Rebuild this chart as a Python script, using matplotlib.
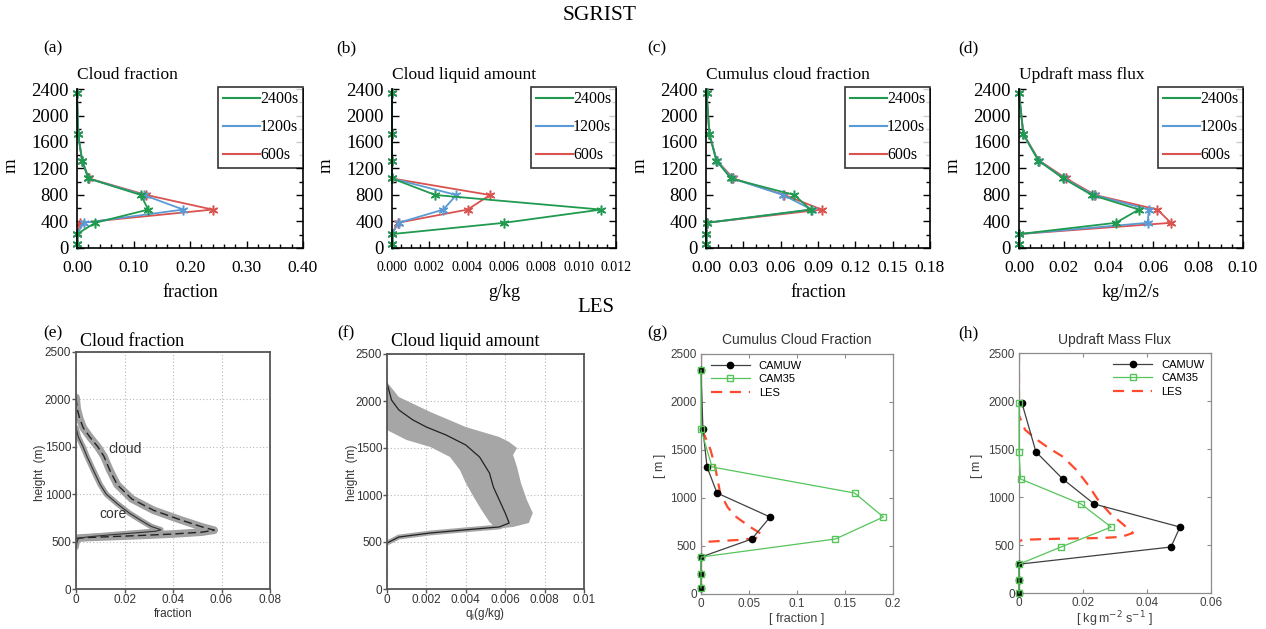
import numpy as np
import matplotlib
matplotlib.use("Agg")
import matplotlib.pyplot as plt
from matplotlib.lines import Line2D
from matplotlib.ticker import AutoMinorLocator

W, H = 1266, 629
SERIF = "Liberation Serif"
SANS = "Liberation Sans"
plt.rcParams["font.family"] = [SERIF, "DejaVu Serif"]

# ---------------- SGRIST (top row) ----------------
z_cam = [2340, 1720, 1320, 1050, 800, 580, 380, 210, 60]

cf_2400 = [0.000, 0.002, 0.009, 0.020, 0.113, 0.126, 0.032, 0.000, 0.000]
cf_1200 = [0.000, 0.002, 0.009, 0.020, 0.118, 0.188, 0.012, 0.000, 0.000]
cf_600 = [0.000, 0.002, 0.009, 0.021, 0.123, 0.240, 0.005, 0.000, 0.000]

cl_2400 = [0, 0, 0, 0, 0.00232, 0.0112, 0.0060, 0, 0]
cl_1200 = [0, 0, 0, 0, 0.00345, 0.00275, 0.00035, 0, 0]
cl_600 = [0, 0, 0, 0, 0.00525, 0.00405, 0.0003, 0, 0]

cu_2400 = [0.0005, 0.0027, 0.0083, 0.020, 0.071, 0.084, 0.0005, 0, 0]
cu_1200 = [0.0005, 0.0027, 0.0085, 0.021, 0.062, 0.085, 0.0005, 0, 0]
cu_600 = [0.0005, 0.0027, 0.0087, 0.022, 0.063, 0.093, 0.0005, 0, 0]

mf_2400 = [0.0, 0.0019, 0.0086, 0.0198, 0.0325, 0.0535, 0.0432, 0.0, 0.0]
mf_1200 = [0.0, 0.0019, 0.0088, 0.0202, 0.0333, 0.0580, 0.0574, 0.0, 0.0]
mf_600 = [0.0, 0.0020, 0.0090, 0.0210, 0.0340, 0.0618, 0.0678, 0.0, 0.0]

run_labels = ["2400s", "1200s", "600s"]
yt_top = [0, 400, 800, 1200, 1600, 2000, 2400]

# ---------------- LES (bottom row) ----------------
# (e) cloud fraction, LES
cld_z = [2020, 1900, 1800, 1700, 1600, 1500, 1400, 1250, 1100, 950, 830, 730, 655, 620, 600, 580, 565, 552, 543, 535]
cld_x = [0, 0.0005, 0.0015, 0.003, 0.0058, 0.009, 0.0115, 0.014, 0.017, 0.023, 0.032, 0.043, 0.052, 0.057, 0.052, 0.040, 0.027, 0.014, 0.005, 0]
core_z = [1700, 1600, 1500, 1400, 1250, 1100, 1000, 900, 800, 720, 660, 625, 610, 595, 575, 555, 540, 525, 480, 440]
core_x = [0, 0.001, 0.0029, 0.0045, 0.0072, 0.0100, 0.0125, 0.017, 0.022, 0.027, 0.031, 0.035, 0.033, 0.026, 0.016, 0.007, 0.002, 0.0008, 0.0003, 0]

# (f) cloud liquid, LES mean and spread
ql_z = [2190, 2010, 1905, 1800, 1723, 1638, 1532, 1404, 1234, 1085, 947, 808, 702, 660, 628, 596, 553, 489]
ql_x = [0, 0.00023, 0.0006, 0.0013, 0.002, 0.003, 0.004, 0.0047, 0.0052, 0.0054, 0.0057, 0.006, 0.0062, 0.0057, 0.0039, 0.0022, 0.0006, 0]
ql_lo_z = [2200, 1691, 1585, 1511, 1404, 1266, 1128, 979, 840, 713, 670]
ql_lo_x = [0, 0, 0.001, 0.0022, 0.0032, 0.0037, 0.004, 0.0044, 0.0048, 0.0052, 0.0054]
ql_hi_z = [2200, 2043, 1883, 1723, 1617, 1564, 1500, 1426, 1298, 1128, 947, 808, 702, 660, 640]
ql_hi_x = [0, 0.0006, 0.0022, 0.004, 0.0057, 0.0062, 0.0066, 0.0064, 0.0066, 0.0068, 0.0071, 0.0074, 0.0072, 0.0064, 0.0055]

# (g) cumulus cloud fraction
g_z = [2334, 1714, 1323, 1052, 802, 573, 385, 208, 63]
g_camuw = [0.0, 0.002, 0.0063, 0.0167, 0.072, 0.053, 0.0, 0.0, 0.0]
g_cam35 = [0.0, 0.0, 0.0115, 0.160, 0.190, 0.140, 0.0, 0.0, 0.0]
g_les_z = [2500, 1800, 1700, 1600, 1500, 1320, 1050, 900, 800, 700, 630, 600, 580, 565, 552, 540, 0]
g_les_x = [0, 0, 0.0015, 0.006, 0.010, 0.0148, 0.020, 0.028, 0.037, 0.051, 0.062, 0.063, 0.056, 0.042, 0.02, 0.0, 0]

# (h) updraft mass flux
h_z = [1980, 1470, 1187, 927, 687, 479, 300, 135, 0]
h_camuw = [0.0009, 0.0053, 0.0137, 0.0235, 0.0503, 0.0475, 0.0, 0.0, 0.0]
h_cam35 = [0.0, 0.0, 0.0005, 0.0194, 0.0288, 0.0131, 0.0, 0.0, 0.0]
h_les_z = [2500, 1850, 1700, 1600, 1510, 1420, 1280, 1125, 970, 830, 730, 625, 585, 573, 565, 555, 540, 0]
h_les_x = [0, 0, 0.0019, 0.0055, 0.0093, 0.0137, 0.018, 0.0216, 0.0247, 0.0284, 0.032, 0.0356, 0.032, 0.026, 0.012, 0.0013, 0, 0]

GREEN, BLUE, RED = "#1f9a4f", "#5b9bd5", "#d9534f"

fig = plt.figure(figsize=(W / 100, H / 100), dpi=100)


def px_axes(box):
    l, t, r, b = box
    return fig.add_axes([l / W, 1 - b / H, (r - l) / W, (b - t) / H])


def ftext(x, y, s, **kw):
    fig.text(x / W, 1 - y / H, s, **kw)


def lab(box, px, py):
    l, t, r, b = box
    return (px - l) / (r - l), (b - py) / (b - t)


# ---------------- top row ----------------
def sgrist(box, xs600, xs1200, xs2400, xticks, ndec, nminor, xfs, letter, title, xlabel, letter_x):
    ax = px_axes(box)
    for xs, c in ((xs600, RED), (xs1200, BLUE), (xs2400, GREEN)):
        ax.plot(xs, z_cam, color=c, lw=1.3, marker=(6, 2, 0), ms=7, mew=1.1, clip_on=False)
    ax.set_xlim(xticks[0], xticks[-1])
    ax.set_ylim(0, 2400)
    ax.set_xticks(xticks)
    ax.set_xticklabels([f"{v:.{ndec}f}" for v in xticks], fontsize=xfs)
    ax.set_yticks(yt_top)
    ax.set_yticklabels([str(v) for v in yt_top], fontsize=13.5)
    ax.xaxis.set_minor_locator(AutoMinorLocator(nminor))
    ax.yaxis.set_minor_locator(AutoMinorLocator(2))
    ax.tick_params(which="both", direction="in", right=True, top=False, width=1.0)
    ax.tick_params(which="major", length=5)
    ax.tick_params(which="minor", length=3)
    ax.tick_params(axis="x", which="major", pad=13 - xfs * 0.35)
    ax.tick_params(axis="y", which="major", pad=6)
    ax.spines["top"].set_visible(False)
    for s in ("left", "right", "bottom"):
        ax.spines[s].set_linewidth(1.2)
    ax.set_xlabel(xlabel, fontsize=13, va="center")
    ax.xaxis.set_label_coords(0.5, lab(box, 0, 293)[1])
    ax.set_ylabel("m", fontsize=13.5, va="center")
    ax.yaxis.set_label_coords(*lab(box, box[0] - 66, 166))
    handles = [Line2D([], [], color=c, lw=1.5) for c in (GREEN, BLUE, RED)]
    leg = ax.legend(handles, run_labels, loc="upper right", bbox_to_anchor=(1.0, 1.015),
                    borderaxespad=0, fontsize=11.5, handlelength=2.3, handletextpad=0.0,
                    borderpad=0.3, labelspacing=0.75, frameon=True, fancybox=False)
    leg.get_frame().set_edgecolor("black")
    leg.get_frame().set_linewidth(1.2)
    ftext(letter_x, 48, letter, fontsize=12.5, va="center")
    ftext(box[0], 75, title, fontsize=12.5, va="center")
    return ax


box_a = (77, 89, 303, 248)
box_b = (392, 89, 616, 248)
box_c = (706, 89, 930, 248)
box_d = (1019, 89, 1243, 248)
sgrist(box_a, cf_600, cf_1200, cf_2400, [0, 0.1, 0.2, 0.3, 0.4], 2, 5, 12.5, "(a)", "Cloud fraction",
       "fraction", 43)
sgrist(box_b, cl_600, cl_1200, cl_2400, [0, 0.002, 0.004, 0.006, 0.008, 0.010, 0.012], 3, 4, 10, "(b)",
       "Cloud liquid amount", "g/kg", 336)
sgrist(box_c, cu_600, cu_1200, cu_2400, [0, 0.03, 0.06, 0.09, 0.12, 0.15, 0.18], 2, 3, 12.5, "(c)",
       "Cumulus cloud fraction", "fraction", 647)
sgrist(box_d, mf_600, mf_1200, mf_2400, [0, 0.02, 0.04, 0.06, 0.08, 0.10], 2, 4, 12.5, "(d)",
       "Updraft mass flux", "kg/m2/s", 958)

ftext(600, 16, "SGRIST", fontsize=15.5, ha="center", va="center")
ftext(596, 308, "LES", fontsize=15, ha="center", va="center")

# ---------------- bottom row: LES panels (e), (f) ----------------
yt_les = [0, 500, 1000, 1500, 2000, 2500]


def les_axes(box, xticks, xticklabels, xlabel, letter, letter_x, title, ylab_x):
    ax = px_axes(box)
    ax.set_xlim(xticks[0], xticks[-1])
    ax.set_ylim(0, 2500)
    ax.set_xticks(xticks)
    ax.set_xticklabels(xticklabels, fontsize=8.5, family=SANS, color="#333333")
    ax.set_yticks(yt_les)
    ax.set_yticklabels([str(v) for v in yt_les], fontsize=8.5, family=SANS, color="#333333")
    ax.tick_params(direction="out", length=3, width=1.0, color="#555555", pad=0.5)
    for s in ax.spines.values():
        s.set_color("#555555")
        s.set_linewidth(1.3)
    ax.grid(True, ls=(0, (1, 2)), color="#b8b8b8", lw=0.8)
    ax.set_axisbelow(True)
    ax.set_xlabel(xlabel, fontsize=8.5, family=SANS, color="#333333", va="center")
    ax.xaxis.set_label_coords(0.5, lab(box, 0, 614)[1])
    ax.set_ylabel("height  (m)", fontsize=8.5, family=SANS, color="#333333", va="center")
    ax.yaxis.set_label_coords(*lab(box, ylab_x, 473))
    ftext(letter_x, 333, letter, fontsize=12.5, va="center")
    ftext(box[0] + 4, 341, title, fontsize=13, va="center")
    return ax


box_e = (76, 352, 270, 589)
ax_e = les_axes(box_e, [0, 0.02, 0.04, 0.06, 0.08], ["0", "0.02", "0.04", "0.06", "0.08"],
                "fraction", "(e)", 43, "Cloud fraction", 40)
ax_e.plot(cld_x, cld_z, color="#a0a0a0", lw=5.5, solid_capstyle="round", solid_joinstyle="round")
ax_e.plot(core_x, core_z, color="#a0a0a0", lw=4.0, solid_capstyle="round", solid_joinstyle="round")
ax_e.plot(cld_x, cld_z, color="#222222", lw=1.0, ls=(0, (6, 3)))
ax_e.plot(core_x, core_z, color="#333333", lw=0.8)
ax_e.text(0.0135, 1480, "cloud", fontsize=10, family=SANS, color="#333333", va="center")
ax_e.text(0.0095, 790, "core", fontsize=10, family=SANS, color="#333333", va="center")

box_f = (387, 354, 584, 589)
ax_f = les_axes(box_f, [0, 0.002, 0.004, 0.006, 0.008, 0.01], ["0", "0.002", "0.004", "0.006", "0.008", "0.01"],
                r"q$_\mathregular{l}$(g/kg)", "(f)", 337, "Cloud liquid amount", 352)
band_x = list(ql_hi_x) + list(ql_lo_x[::-1])
band_z = list(ql_hi_z) + list(ql_lo_z[::-1])
ax_f.fill(band_x, band_z, color="#a6a6a6", lw=0)
ax_f.plot(ql_x[12:], ql_z[12:], color="#a6a6a6", lw=3.5, solid_capstyle="round")
ax_f.plot(ql_x, ql_z, color="#222222", lw=0.9)

# ---------------- bottom row: model comparison (g), (h) ----------------
CAMUW_C, CAM35_C, LES_C = "#404040", "#55c55a", "#ff4a2e"


def cam_axes(box, xticks, xticklabels, xlabel, letter, letter_x, title, ylab_x):
    ax = px_axes(box)
    ax.set_xlim(xticks[0], xticks[-1])
    ax.set_ylim(0, 2500)
    ax.set_xticks(xticks)
    ax.set_xticklabels(xticklabels, fontsize=8.5, family=SANS, color="#404040")
    ax.set_yticks(yt_les)
    ax.set_yticklabels([str(v) for v in yt_les], fontsize=8.5, family=SANS, color="#404040")
    ax.tick_params(direction="in", length=3, width=0.8, color="#8c8c8c", top=True, right=True, pad=3)
    for s in ax.spines.values():
        s.set_color("#8c8c8c")
        s.set_linewidth(0.9)
    ax.set_xlabel(xlabel, fontsize=9, family=SANS, color="#404040", va="center")
    ax.xaxis.set_label_coords(0.5, lab(box, 0, 619)[1])
    ax.set_ylabel("[ m ]", fontsize=9, family=SANS, color="#404040", va="center")
    ax.yaxis.set_label_coords(*lab(box, ylab_x, 466))
    ftext(letter_x, 333, letter, fontsize=12.5, va="center")
    ftext((box[0] + box[2]) / 2, 340, title, fontsize=10, family=SANS, color="#333333",
          ha="center", va="center")
    return ax


def cam_lines(ax, z, camuw, cam35, les_x, les_z, loc, anchor):
    ax.plot(les_x, les_z, color=LES_C, lw=1.6, ls=(0, (5, 3.5)), zorder=2)
    l1, = ax.plot(camuw, z, color=CAMUW_C, lw=0.9, marker="o", ms=4.5, mfc="black", mec="black",
                  clip_on=False, zorder=3)
    l2, = ax.plot(cam35, z, color=CAM35_C, lw=0.9, marker="s", ms=4, mfc="none", mec=CAM35_C,
                  clip_on=False, zorder=4)
    l3 = Line2D([], [], color=LES_C, lw=1.6, ls=(0, (5, 3.5)))
    ax.legend([l1, l2, l3], ["CAMUW", "CAM35", "LES"], loc=loc, bbox_to_anchor=anchor,
              frameon=False, handlelength=3.5, handletextpad=0.8, labelspacing=0.3,
              borderpad=0, borderaxespad=0, prop={"family": SANS, "size": 8})


box_g = (701, 354, 893, 594)
ax_g = cam_axes(box_g, [0, 0.05, 0.1, 0.15, 0.2], ["0", "0.05", "0.1", "0.15", "0.2"],
                "[ fraction ]", "(g)", 647, "Cumulus Cloud Fraction", 660)
cam_lines(ax_g, g_z, g_camuw, g_cam35, g_les_x, g_les_z, "upper left", lab(box_g, 711, 361))

box_h = (1019, 353, 1211, 593)
ax_h = cam_axes(box_h, [0, 0.02, 0.04, 0.06], ["0", "0.02", "0.04", "0.06"],
                r"[ kg$\,$m$^{-2}$ s$^{-1}$ ]", "(h)", 958, "Updraft Mass Flux", 977)
cam_lines(ax_h, h_z, h_camuw, h_cam35, h_les_x, h_les_z, "upper right", lab(box_h, 1204, 360))

fig.savefig("out.png", dpi=100)
